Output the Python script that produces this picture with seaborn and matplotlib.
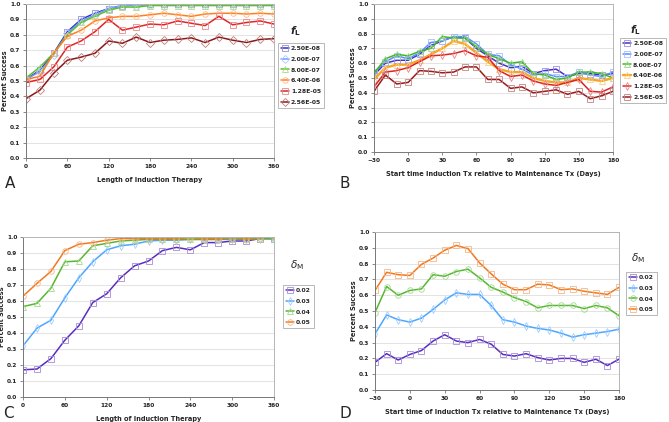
import numpy as np
import pandas as pd
import matplotlib
matplotlib.use("Agg")
import matplotlib.pyplot as plt
import matplotlib.colors as mcolors
import seaborn as sns

# ---- data -------------------------------------------------------------
induction_days = list(range(0, 361, 20))
start_days = list(range(-30, 181, 10))

fl_labels = ["2.50E-08", "2.00E-07", "8.00E-07", "6.40E-06", "1.28E-05", "2.56E-05"]
dm_labels = ["0.02", "0.03", "0.04", "0.05"]

# panel A: success vs length of induction, by f_L
a_fl1 = [0.51, 0.57, 0.68, 0.82, 0.90, 0.94, 0.97, 0.99, 1.00, 1.00, 1.00, 1.00, 1.00, 1.00, 1.00, 1.00, 1.00, 1.00, 1.00]
a_fl2 = [0.51, 0.56, 0.67, 0.81, 0.89, 0.93, 0.97, 0.99, 0.99, 0.995, 1.00, 1.00, 1.00, 1.00, 1.00, 1.00, 1.00, 1.00, 1.00]
a_fl3 = [0.52, 0.59, 0.68, 0.80, 0.88, 0.92, 0.96, 0.98, 0.98, 0.99, 0.99, 0.99, 0.99, 0.99, 0.99, 0.99, 0.99, 0.99, 0.99]
a_fl4 = [0.51, 0.53, 0.68, 0.79, 0.83, 0.89, 0.91, 0.92, 0.92, 0.93, 0.94, 0.93, 0.92, 0.935, 0.94, 0.94, 0.935, 0.94, 0.935]
a_fl5 = [0.49, 0.51, 0.59, 0.72, 0.76, 0.82, 0.90, 0.83, 0.85, 0.87, 0.865, 0.89, 0.875, 0.86, 0.92, 0.865, 0.88, 0.89, 0.87]
a_fl6 = [0.385, 0.44, 0.55, 0.635, 0.655, 0.68, 0.76, 0.745, 0.785, 0.75, 0.765, 0.77, 0.78, 0.75, 0.785, 0.765, 0.75, 0.77, 0.775]

# panel B: success vs start time of induction, by f_L
b_fl1 = [0.52, 0.60, 0.62, 0.62, 0.66, 0.72, 0.75, 0.78, 0.77, 0.70, 0.65, 0.60, 0.57, 0.58, 0.53, 0.55, 0.56, 0.51, 0.53, 0.53, 0.52, 0.53]
b_fl2 = [0.54, 0.61, 0.65, 0.63, 0.67, 0.74, 0.75, 0.78, 0.78, 0.73, 0.66, 0.65, 0.59, 0.56, 0.52, 0.53, 0.51, 0.51, 0.54, 0.52, 0.51, 0.54]
b_fl3 = [0.53, 0.63, 0.66, 0.65, 0.68, 0.70, 0.78, 0.77, 0.77, 0.71, 0.66, 0.63, 0.60, 0.61, 0.53, 0.52, 0.49, 0.50, 0.54, 0.54, 0.53, 0.50]
b_fl4 = [0.49, 0.57, 0.59, 0.59, 0.62, 0.66, 0.70, 0.75, 0.73, 0.67, 0.61, 0.56, 0.54, 0.54, 0.50, 0.48, 0.47, 0.47, 0.50, 0.49, 0.48, 0.50]
b_fl5 = [0.44, 0.54, 0.55, 0.57, 0.61, 0.65, 0.655, 0.665, 0.685, 0.65, 0.64, 0.55, 0.51, 0.52, 0.48, 0.46, 0.45, 0.47, 0.49, 0.41, 0.405, 0.44]
b_fl6 = [0.41, 0.52, 0.46, 0.47, 0.55, 0.545, 0.535, 0.54, 0.575, 0.575, 0.49, 0.49, 0.43, 0.44, 0.40, 0.41, 0.42, 0.39, 0.41, 0.36, 0.38, 0.41]

# panel C: success vs length of induction, by delta_M
c_dm1 = [0.17, 0.175, 0.24, 0.355, 0.445, 0.59, 0.645, 0.745, 0.82, 0.85, 0.915, 0.935, 0.92, 0.965, 0.965, 0.975, 0.975, 0.99, 0.99]
c_dm2 = [0.32, 0.43, 0.48, 0.62, 0.745, 0.845, 0.92, 0.945, 0.955, 0.975, 0.98, 0.98, 0.985, 0.985, 0.985, 0.985, 0.985, 0.99, 0.99]
c_dm3 = [0.565, 0.585, 0.68, 0.845, 0.85, 0.945, 0.96, 0.975, 0.98, 0.985, 0.985, 0.985, 0.985, 0.985, 0.985, 0.99, 0.985, 0.99, 0.99]
c_dm4 = [0.63, 0.71, 0.785, 0.915, 0.955, 0.965, 0.98, 0.99, 0.99, 0.99, 0.99, 0.99, 0.995, 0.99, 0.99, 0.995, 0.99, 0.995, 1.00]

# panel D: success vs start time of induction, by delta_M
d_dm1 = [0.175, 0.23, 0.19, 0.225, 0.25, 0.31, 0.35, 0.31, 0.30, 0.32, 0.29, 0.225, 0.215, 0.23, 0.205, 0.19, 0.20, 0.20, 0.175, 0.195, 0.155, 0.195]
d_dm2 = [0.355, 0.475, 0.445, 0.43, 0.455, 0.51, 0.57, 0.615, 0.605, 0.605, 0.535, 0.445, 0.43, 0.405, 0.39, 0.38, 0.36, 0.335, 0.35, 0.36, 0.37, 0.385]
d_dm3 = [0.49, 0.655, 0.60, 0.63, 0.64, 0.73, 0.72, 0.75, 0.765, 0.71, 0.65, 0.62, 0.585, 0.56, 0.52, 0.535, 0.535, 0.535, 0.515, 0.535, 0.52, 0.47]
d_dm4 = [0.63, 0.745, 0.73, 0.725, 0.795, 0.835, 0.885, 0.915, 0.895, 0.805, 0.735, 0.67, 0.635, 0.635, 0.67, 0.665, 0.635, 0.64, 0.625, 0.615, 0.605, 0.65]

# ---- style ------------------------------------------------------------
sns.set_style("white")
plt.rcParams["font.family"] = ["DejaVu Sans"]

FL_COLORS_A = ["#3a2fc4", "#6f9cff", "#5cc02a", "#ff7f1e", "#e02626", "#8a1717"]
FL_COLORS_B = ["#4b2fc8", "#5b8cff", "#3fb81e", "#f5a623", "#dd2222", "#9b1b1b"]
DM_COLORS = ["#5a2dbe", "#4da6ff", "#55b830", "#f07820"]

FL_MARKERS_A = ["s", "D", "^", "o", "s", "D"]
FL_MARKERS_B = ["s", "s", "^", "^", "d", "s"]
DM_MARKERS_C = ["s", "d", "^", "o"]
DM_MARKERS_D = ["s", "d", "o", "s"]

TICK_FS = 4.2
LABEL_FS = 4.8
LEGEND_FS = 4.4


def lighter(c, amount=0.45):
    r, g, b = mcolors.to_rgb(c)
    return (r + (1 - r) * amount, g + (1 - g) * amount, b + (1 - b) * amount)


def draw_panel(ax, x, series, labels, colors, markers, xticks, xlabel, title, leg_xy, title_xy, lw_list=None):
    for i, (y, lab, c, m) in enumerate(zip(series, labels, colors, markers)):
        df = pd.DataFrame({"x": x, "y": y})
        lw = 1.1 if lw_list is None else lw_list[i]
        sns.lineplot(data=df, x="x", y="y", ax=ax, color=c, marker=m, markersize=4,
                     markerfacecolor="none", markeredgecolor=lighter(c), markeredgewidth=0.6,
                     linewidth=lw, label=lab)

    ax.set_ylim(0, 1.0)
    ax.set_xlim(xticks[0], xticks[-1])
    ax.set_yticks(np.arange(0, 1.01, 0.1))
    ax.set_yticklabels([f"{v:.1f}" for v in np.arange(0, 1.01, 0.1)])
    ax.set_xticks(xticks)
    ax.yaxis.grid(True, color="#dedede", linewidth=0.6)
    ax.set_axisbelow(True)
    for t in ax.get_xticklabels() + ax.get_yticklabels():
        t.set_fontsize(TICK_FS)
        t.set_fontweight("bold")
        t.set_color("#222222")
    ax.tick_params(axis="both", length=2, width=0.6, color="#777777", pad=2, bottom=True, left=True)
    ax.spines["left"].set_color("#777777")
    ax.spines["bottom"].set_color("#777777")
    ax.spines["top"].set_color("#b5b5b5")
    ax.spines["right"].set_color("#b5b5b5")
    for s in ax.spines.values():
        s.set_linewidth(0.7)

    ax.set_xlabel(xlabel, fontsize=LABEL_FS, fontweight="bold", labelpad=6)
    ax.set_ylabel("Percent Success", fontsize=LABEL_FS, fontweight="bold", labelpad=1.5)

    leg = ax.legend(loc="upper left", bbox_to_anchor=leg_xy, borderaxespad=0,
                    fancybox=False, frameon=True, handlelength=1.4, handletextpad=0.25,
                    labelspacing=0.9, borderpad=0.45, prop={"size": LEGEND_FS, "weight": "bold"})
    leg.get_frame().set_edgecolor("#999999")
    leg.get_frame().set_linewidth(0.6)
    ax.text(title_xy[0], title_xy[1], title, transform=ax.transAxes, fontsize=7.5,
            ha="center", va="center")


fig = plt.figure(figsize=(6.69, 4.22), dpi=100)

ax_a = fig.add_axes([0.0389, 0.6256, 0.3707, 0.3649])
ax_b = fig.add_axes([0.5590, 0.6398, 0.3573, 0.3507])
ax_c = fig.add_axes([0.0344, 0.0592, 0.3752, 0.3792])
ax_d = fig.add_axes([0.5605, 0.0758, 0.3648, 0.3744])

fl_title = r"$\mathbfit{f}_{\mathbf{L}}$"
dm_title = r"$\delta_\mathrm{M}$"

draw_panel(ax_a, induction_days, [a_fl1, a_fl2, a_fl3, a_fl4, a_fl5, a_fl6], fl_labels,
           FL_COLORS_A, FL_MARKERS_A, list(range(0, 361, 60)),
           "Length of Induction Therapy", fl_title, (1.016, 0.747), (1.085, 0.825))
draw_panel(ax_b, start_days, [b_fl1, b_fl2, b_fl3, b_fl4, b_fl5, b_fl6], fl_labels,
           FL_COLORS_B, FL_MARKERS_B, list(range(-30, 181, 30)),
           "Start time Induction Tx relative to Maintenance Tx (Days)", fl_title,
           (1.030, 0.77), (1.096, 0.824), lw_list=[1.1, 1.1, 1.1, 1.7, 1.1, 1.1])
draw_panel(ax_c, induction_days, [c_dm1, c_dm2, c_dm3, c_dm4], dm_labels,
           DM_COLORS, DM_MARKERS_C, list(range(0, 361, 60)),
           "Length of Induction Therapy", dm_title, (1.036, 0.70), (1.092, 0.825))
draw_panel(ax_d, start_days, [d_dm1, d_dm2, d_dm3, d_dm4], dm_labels,
           DM_COLORS, DM_MARKERS_D, list(range(-30, 181, 30)),
           "Start time of Induction Tx relative to Maintenance Tx (Days)", dm_title,
           (1.029, 0.747), (1.078, 0.835))

for letter, x, y in [("A", 10, 183), ("B", 345, 183), ("C", 8, 414), ("D", 345, 414)]:
    fig.text(x / 669, 1 - y / 422, letter, fontsize=11, ha="center", va="center")

fig.savefig("out.png", dpi=100)
plt.close(fig)
